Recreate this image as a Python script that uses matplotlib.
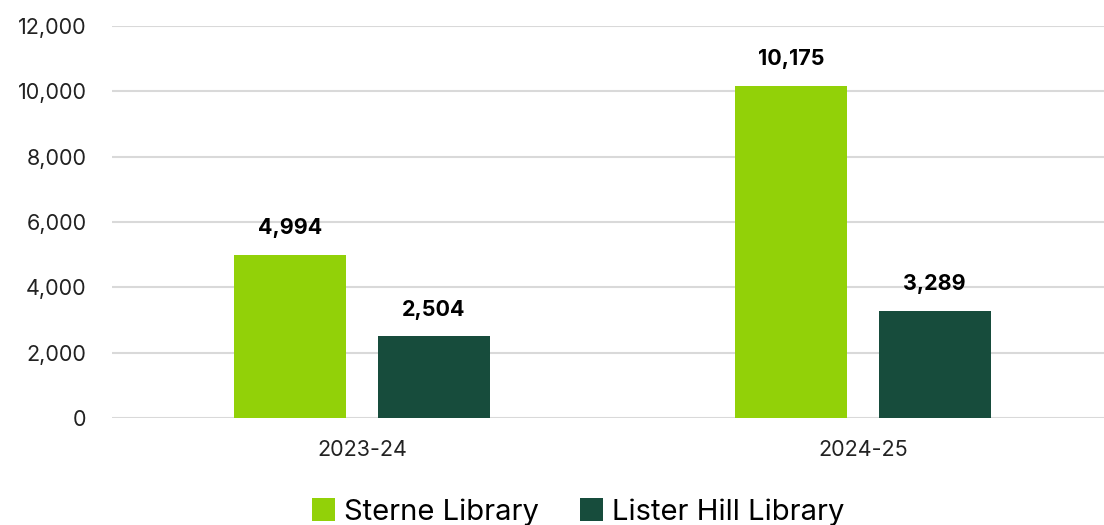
import numpy as np
import matplotlib.pyplot as plt
from matplotlib.ticker import FuncFormatter

plt.rcParams['font.family'] = ['Inter', 'DejaVu Sans']

years = ['2023-24', '2024-25']
sterne = [4994, 10175]
lister = [2504, 3289]
series_names = ['Sterne Library', 'Lister Hill Library']
colors = ['#92d108', '#174c3c']

fig = plt.figure(figsize=(11.04, 5.25), dpi=100)
ax = fig.add_axes([111.5 / 1104, 107 / 525, 1002 / 1104, 392 / 525])

x = np.arange(len(years))
w = 0.224
off = 0.143
for vals, dx, c, name in zip([sterne, lister], [-off, off], colors, series_names):
    bars = ax.bar(x + dx, vals, w, color=c, label=name, zorder=3)
    for b, v in zip(bars, vals):
        ax.annotate(f'{v:,}', (b.get_x() + b.get_width() / 2, v),
                    xytext=(0, 12), textcoords='offset points',
                    ha='center', va='bottom', fontsize=15.5, fontweight='bold')

ax.set_xlim(-0.5, 1.5)
ax.set_ylim(0, 12000)
ax.set_yticks(np.arange(0, 12001, 2000))
ax.yaxis.set_major_formatter(FuncFormatter(lambda v, p: f'{int(v):,}'))
ax.set_xticks(x)
ax.set_xticklabels(years)
ax.tick_params(axis='both', length=0, labelsize=15.5, colors='#222222')
ax.tick_params(axis='x', pad=16)
ax.tick_params(axis='y', pad=18)
ax.grid(axis='y', color='#d9d9d9', linewidth=1.5, zorder=0)
for s in ax.spines.values():
    s.set_visible(False)

fig.legend(loc='center', bbox_to_anchor=(578 / 1104, 1 - 512 / 525),
           ncol=2, frameon=False, fontsize=21, handlelength=0.8,
           handleheight=0.8, handletextpad=0.3, columnspacing=1.4)

fig.savefig('out.png', dpi=100)
